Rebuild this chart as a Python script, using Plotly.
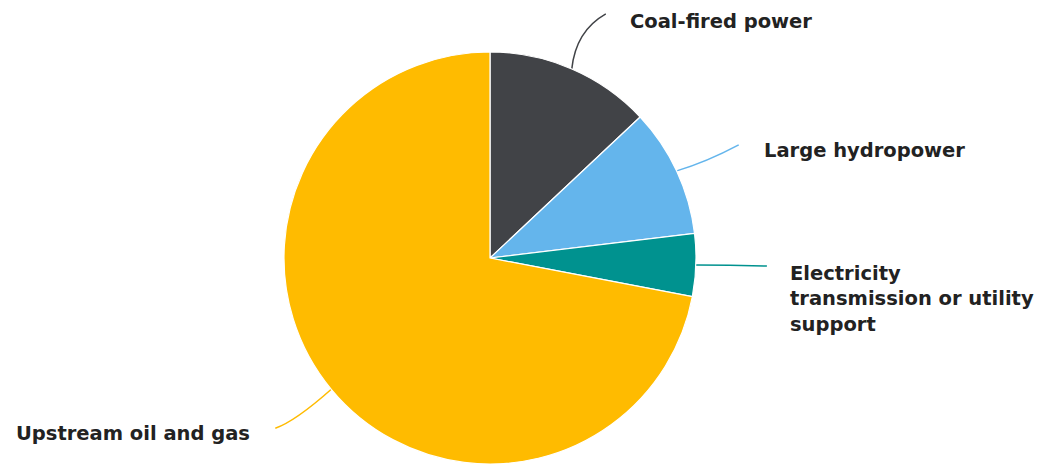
import math
import plotly.graph_objects as go

labels = ["Coal-fired power", "Large hydropower", "Electricity transmission or utility support", "Upstream oil and gas"]
display_labels = ["Coal-fired power", "Large hydropower", "Electricity<br>transmission or utility<br>support", "Upstream oil and gas"]
values = [13.0, 10.1, 4.9, 72.0]
colors = ["#414347", "#64b5ec", "#00928f", "#ffbb00"]

W, H = 1056, 467
OFF = 8  # page body margin
cx, cy, R = 490 - OFF, 258 - OFF, 206

fig = go.Figure()
fig.add_trace(go.Pie(
    labels=labels, values=values, sort=False, direction="clockwise", rotation=0,
    marker=dict(colors=colors, line=dict(color="white", width=1.2)),
    textinfo="none", hoverinfo="label+percent", showlegend=False,
    domain=dict(x=[(cx - R) / W, (cx + R) / W], y=[(H - cy - R) / H, (H - cy + R) / H]),
))

leaders = [
    dict(dx=34, dy=-55, bend=(4, -38), tx=22, ty=8, xanchor="left"),
    dict(dx=62, dy=-26, bend=(30, -9), tx=23, ty=6, xanchor="left"),
    dict(dx=71, dy=1, bend=(35, 0), tx=21, ty=33, xanchor="left"),
    dict(dx=-56, dy=39, bend=(-36, 32), tx=-23, ty=5, xanchor="right"),
]

total = sum(values)
cum = 0.0
shapes = []
annotations = []
for lab, v, col, ld in zip(display_labels, values, colors, leaders):
    mid = (cum + v / 2) / total * 2 * math.pi
    cum += v
    sx = cx + R * math.sin(mid)
    sy = cy - R * math.cos(mid)
    ex, ey = sx + ld["dx"], sy + ld["dy"]
    qx, qy = sx + ld["bend"][0], sy + ld["bend"][1]
    shapes.append(dict(type="path", xref="x", yref="y",
                       path=f"M {sx:.1f},{sy:.1f} Q {qx:.1f},{qy:.1f} {ex:.1f},{ey:.1f}",
                       line=dict(color=col, width=1.5), layer="below"))
    annotations.append(dict(x=ex + ld["tx"], y=ey + ld["ty"], xref="x", yref="y",
                            text=f"<b>{lab}</b>", showarrow=False, align="left",
                            xanchor=ld["xanchor"], yanchor="middle",
                            font=dict(family="DejaVu Sans", size=19.5, color="#222222")))

fig.update_layout(
    width=W, height=H, margin=dict(l=0, r=0, t=0, b=0),
    paper_bgcolor="white", plot_bgcolor="rgba(0,0,0,0)",
    xaxis=dict(range=[0, W], visible=False, fixedrange=True),
    yaxis=dict(range=[H, 0], visible=False, fixedrange=True),
    shapes=shapes, annotations=annotations,
)
fig.write_html("out.html")
